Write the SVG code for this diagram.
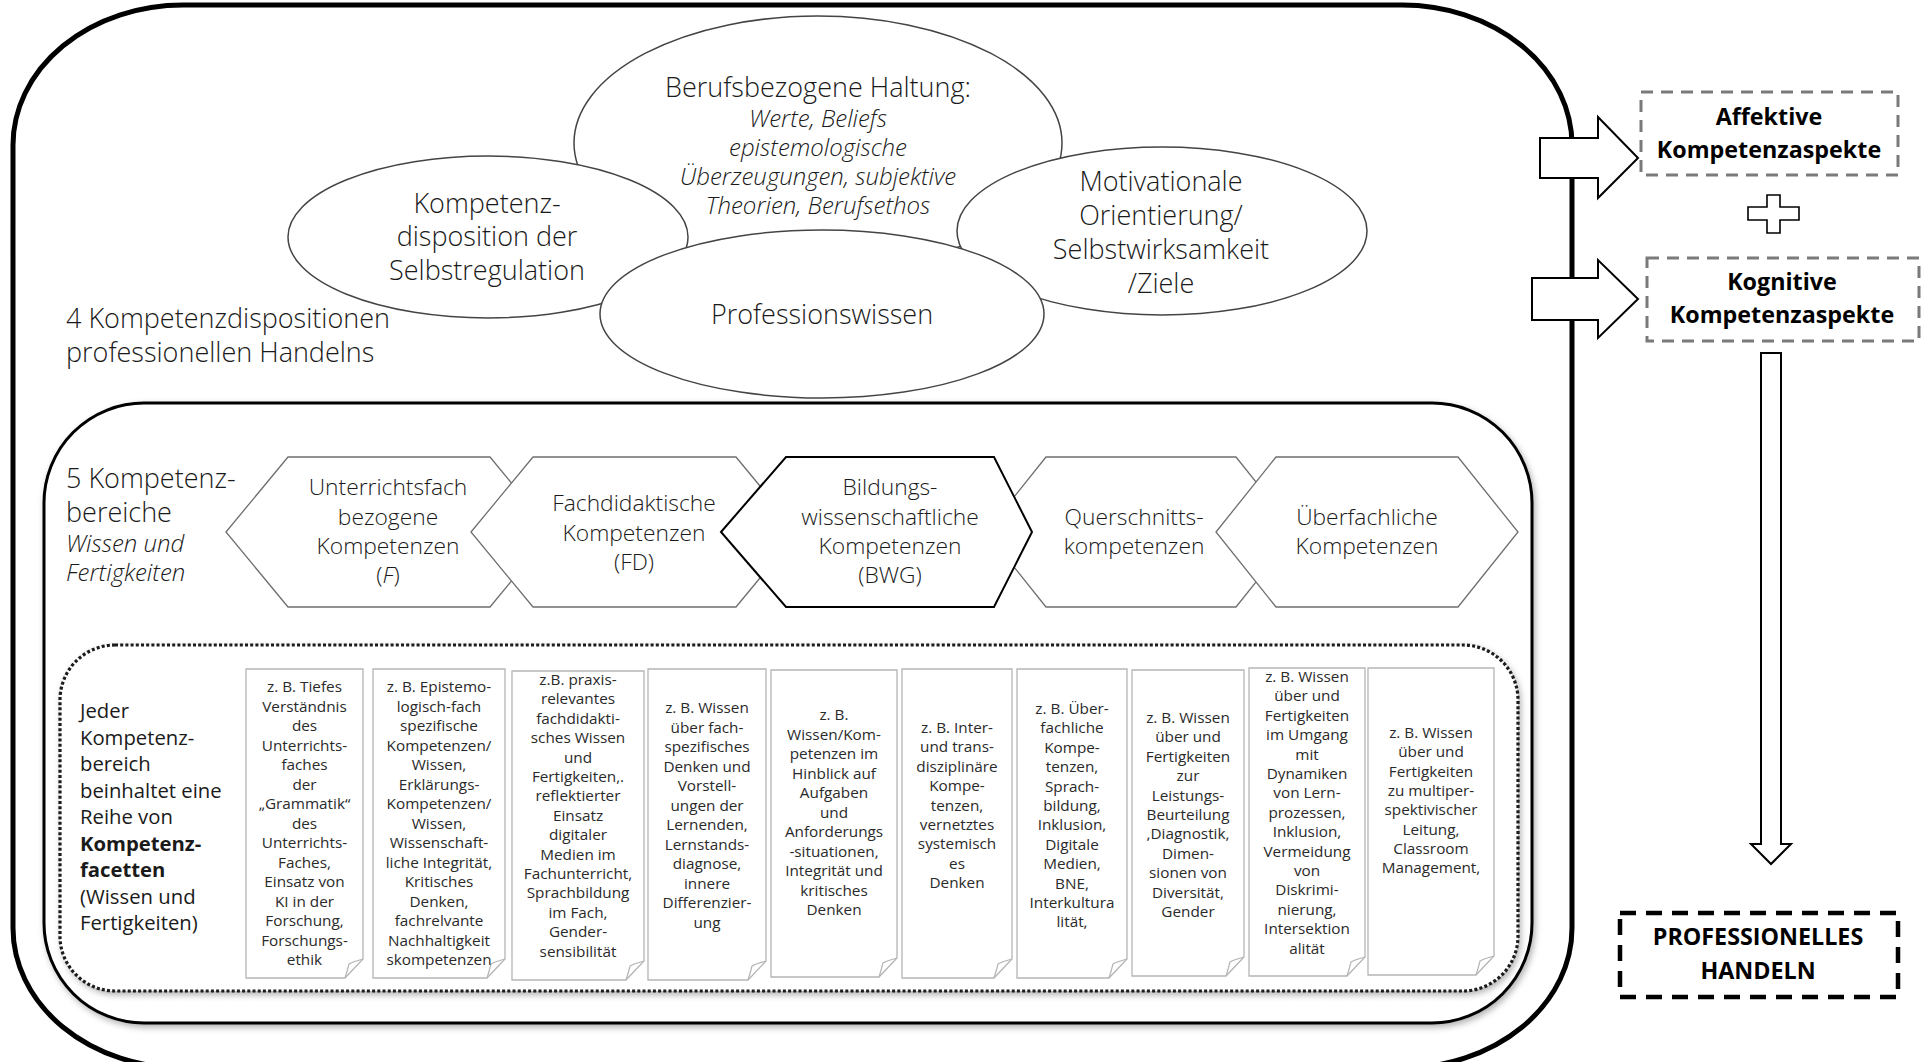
<svg xmlns="http://www.w3.org/2000/svg" width="1926" height="1062" viewBox="0 0 1926 1062">
<defs>
<filter id="sh" x="-3%" y="-3%" width="106%" height="108%"><feDropShadow dx="2" dy="3" stdDeviation="3" flood-color="#000" flood-opacity="0.3"/></filter>
</defs>
<style>
text{font-family:"Open Sans","Noto Sans","DejaVu Sans",sans-serif;fill:#1a1a1a;}
.lt{font-weight:300;}
.el{fill:#fff;stroke:#444;stroke-width:1.5;}
.hx{fill:#fff;stroke:#6f6f6f;stroke-width:1.3;}
.big{font-size:27px;text-anchor:middle;}
.it{font-size:24px;font-style:italic;text-anchor:middle;}
.hxt{font-size:22.8px;text-anchor:middle;}
.note{fill:#fff;stroke:#b5b5b5;stroke-width:1.3;}
.fold{fill:none;stroke:#b5b5b5;stroke-width:1.2;}
.nt{font-size:15.3px;text-anchor:middle;fill:#2a2a2a;}
.bl{font-size:23.3px;font-weight:700;text-anchor:middle;fill:#000;}
.barrow{fill:#fff;stroke:#000;stroke-width:2;stroke-linejoin:miter;}
</style>

<g id="outer-frame">
<rect x="13" y="5" width="1559" height="1063" rx="170" ry="140" fill="#fff" stroke="#000" stroke-width="5"/>
</g>

<g id="dispositions">
<g id="ellipse-haltung">
<ellipse class="el" cx="818" cy="143" rx="244" ry="127"/>
<text class="big lt" x="818" y="97">Berufsbezogene Haltung:</text>
<text class="it lt" x="818" y="127">Werte, Beliefs</text>
<text class="it lt" x="818" y="156">epistemologische</text>
<text class="it lt" x="818" y="185">Überzeugungen, subjektive</text>
<text class="it lt" x="818" y="214">Theorien, Berufsethos</text>
</g>
<g id="ellipse-selbstregulation">
<ellipse class="el" cx="488" cy="237" rx="200" ry="81"/>
<text class="big lt" x="487" y="213">Kompetenz-</text>
<text class="big lt" x="487" y="246">disposition der</text>
<text class="big lt" x="487" y="280">Selbstregulation</text>
</g>
<g id="ellipse-motivation">
<ellipse class="el" cx="1162" cy="231" rx="205" ry="84"/>
<text class="big lt" x="1161" y="191">Motivationale</text>
<text class="big lt" x="1161" y="225">Orientierung/</text>
<text class="big lt" x="1161" y="259">Selbstwirksamkeit</text>
<text class="big lt" x="1161" y="293">/Ziele</text>
</g>
<g id="ellipse-professionswissen">
<ellipse class="el" cx="822" cy="314" rx="222" ry="84"/>
<text class="big lt" x="822" y="324">Professionswissen</text>
</g>
<g id="label-dispositionen">
<text class="lt" x="66" y="328" font-size="27">4 Kompetenzdispositionen</text>
<text class="lt" x="66" y="362" font-size="27">professionellen Handelns</text>
</g>
</g>

<g id="bereiche-frame">
<rect x="44" y="403" width="1488" height="620" rx="100" ry="100" fill="#fff" stroke="#000" stroke-width="3" filter="url(#sh)"/>
</g>

<g id="label-bereiche">
<text class="lt" x="66" y="488" font-size="27">5 Kompetenz-</text>
<text class="lt" x="66" y="522" font-size="27">bereiche</text>
<text class="lt" x="66" y="552" font-size="24" font-style="italic">Wissen und</text>
<text class="lt" x="66" y="581" font-size="24" font-style="italic">Fertigkeiten</text>
</g>

<g id="hex-F">
<polygon class="hx" points="226,532 288,457 490,457 552,532 490,607 288,607"/>
<text class="hxt lt" x="388" y="495">Unterrichtsfach</text>
<text class="hxt lt" x="388" y="525">bezogene</text>
<text class="hxt lt" x="388" y="554">Kompetenzen</text>
<text class="hxt lt" x="388" y="583">(<tspan font-style="italic">F</tspan>)</text>
</g>
<g id="hex-FD">
<polygon class="hx" points="471,532 533,457 736,457 798,532 736,607 533,607"/>
<text class="hxt lt" x="634" y="511">Fachdidaktische</text>
<text class="hxt lt" x="634" y="541">Kompetenzen</text>
<text class="hxt lt" x="634" y="570">(FD)</text>
</g>
<g id="hex-Q">
<polygon class="hx" points="986,532 1046,457 1236,457 1296,532 1236,607 1046,607"/>
<text class="hxt lt" x="1134" y="525">Querschnitts-</text>
<text class="hxt lt" x="1134" y="554">kompetenzen</text>
</g>
<g id="hex-UE">
<polygon class="hx" points="1216,532 1276,457 1458,457 1518,532 1458,607 1276,607"/>
<text class="hxt lt" x="1367" y="525">Überfachliche</text>
<text class="hxt lt" x="1367" y="554">Kompetenzen</text>
</g>
<g id="hex-BWG">
<polygon points="721,532 786,457 994,457 1032,532 994,607 786,607" fill="#fff" stroke="#000" stroke-width="2"/>
<text class="hxt lt" x="890" y="495">Bildungs-</text>
<text class="hxt lt" x="890" y="525">wissenschaftliche</text>
<text class="hxt lt" x="890" y="554">Kompetenzen</text>
<text class="hxt lt" x="890" y="583">(BWG)</text>
</g>

<g id="facetten-frame">
<rect x="60" y="645" width="1458" height="346" rx="55" ry="55" fill="#fff" stroke="#1a1a1a" stroke-width="3.2" stroke-dasharray="3 2.2" filter="url(#sh)"/>
</g>

<g id="label-facetten">
<text x="80" y="718" font-size="20.3">Jeder</text>
<text x="80" y="745" font-size="20.3">Kompetenz-</text>
<text x="80" y="771" font-size="20.3">bereich</text>
<text x="80" y="798" font-size="20.3">beinhaltet eine</text>
<text x="80" y="824" font-size="20.3">Reihe von</text>
<text x="80" y="851" font-size="20.3" font-weight="700">Kompetenz-</text>
<text x="80" y="877" font-size="20.3" font-weight="700">facetten</text>
<text x="80" y="904" font-size="20.3">(Wissen und</text>
<text x="80" y="930" font-size="20.3">Fertigkeiten)</text>
</g>

<g id="note-1">
<path class="note" d="M246,669 H363 V959 L345,978 H246 Z"/>
<path class="fold" d="M363,959 Q352,962 349,964 Q347,972 345,978"/>
<text class="nt" x="304.5" y="692">z. B. Tiefes<tspan x="304.5" dy="19.5">Verständnis</tspan><tspan x="304.5" dy="19.5">des</tspan><tspan x="304.5" dy="19.5">Unterrichts-</tspan><tspan x="304.5" dy="19.5">faches</tspan><tspan x="304.5" dy="19.5">der</tspan><tspan x="304.5" dy="19.5">„Grammatik“</tspan><tspan x="304.5" dy="19.5">des</tspan><tspan x="304.5" dy="19.5">Unterrichts-</tspan><tspan x="304.5" dy="19.5">Faches,</tspan><tspan x="304.5" dy="19.5">Einsatz von</tspan><tspan x="304.5" dy="19.5">KI in der</tspan><tspan x="304.5" dy="19.5">Forschung,</tspan><tspan x="304.5" dy="19.5">Forschungs-</tspan><tspan x="304.5" dy="19.5">ethik</tspan></text>
</g>
<g id="note-2">
<path class="note" d="M373,669 H505 V959 L487,978 H373 Z"/>
<path class="fold" d="M505,959 Q494,962 491,964 Q489,972 487,978"/>
<text class="nt" x="439" y="692">z. B. Epistemo-<tspan x="439" dy="19.5">logisch-fach</tspan><tspan x="439" dy="19.5">spezifische</tspan><tspan x="439" dy="19.5">Kompetenzen/</tspan><tspan x="439" dy="19.5">Wissen,</tspan><tspan x="439" dy="19.5">Erklärungs-</tspan><tspan x="439" dy="19.5">Kompetenzen/</tspan><tspan x="439" dy="19.5">Wissen,</tspan><tspan x="439" dy="19.5">Wissenschaft-</tspan><tspan x="439" dy="19.5">liche Integrität,</tspan><tspan x="439" dy="19.5">Kritisches</tspan><tspan x="439" dy="19.5">Denken,</tspan><tspan x="439" dy="19.5">fachrelvante</tspan><tspan x="439" dy="19.5">Nachhaltigkeit</tspan><tspan x="439" dy="19.5">skompetenzen</tspan></text>
</g>
<g id="note-3">
<path class="note" d="M512,671 H644 V961 L626,980 H512 Z"/>
<path class="fold" d="M644,961 Q633,964 630,966 Q628,974 626,980"/>
<text class="nt" x="578" y="685">z.B. praxis-<tspan x="578" dy="19.4">relevantes</tspan><tspan x="578" dy="19.4">fachdidakti-</tspan><tspan x="578" dy="19.4">sches Wissen</tspan><tspan x="578" dy="19.4">und</tspan><tspan x="578" dy="19.4">Fertigkeiten,.</tspan><tspan x="578" dy="19.4">reflektierter</tspan><tspan x="578" dy="19.4">Einsatz</tspan><tspan x="578" dy="19.4">digitaler</tspan><tspan x="578" dy="19.4">Medien im</tspan><tspan x="578" dy="19.4">Fachunterricht,</tspan><tspan x="578" dy="19.4">Sprachbildung</tspan><tspan x="578" dy="19.4">im Fach,</tspan><tspan x="578" dy="19.4">Gender-</tspan><tspan x="578" dy="19.4">sensibilität</tspan></text>
</g>
<g id="note-4">
<path class="note" d="M648,669 H766 V961 L748,980 H648 Z"/>
<path class="fold" d="M766,961 Q755,964 752,966 Q750,974 748,980"/>
<text class="nt" x="707" y="713">z. B. Wissen<tspan x="707" dy="19.5">über fach-</tspan><tspan x="707" dy="19.5">spezifisches</tspan><tspan x="707" dy="19.5">Denken und</tspan><tspan x="707" dy="19.5">Vorstell-</tspan><tspan x="707" dy="19.5">ungen der</tspan><tspan x="707" dy="19.5">Lernenden,</tspan><tspan x="707" dy="19.5">Lernstands-</tspan><tspan x="707" dy="19.5">diagnose,</tspan><tspan x="707" dy="19.5">innere</tspan><tspan x="707" dy="19.5">Differenzier-</tspan><tspan x="707" dy="19.5">ung</tspan></text>
</g>
<g id="note-5">
<path class="note" d="M771,670 H897 V958 L879,977 H771 Z"/>
<path class="fold" d="M897,958 Q886,961 883,963 Q881,971 879,977"/>
<text class="nt" x="834" y="720">z. B.<tspan x="834" dy="19.5">Wissen/Kom-</tspan><tspan x="834" dy="19.5">petenzen im</tspan><tspan x="834" dy="19.5">Hinblick auf</tspan><tspan x="834" dy="19.5">Aufgaben</tspan><tspan x="834" dy="19.5">und</tspan><tspan x="834" dy="19.5">Anforderungs</tspan><tspan x="834" dy="19.5">-situationen,</tspan><tspan x="834" dy="19.5">Integrität und</tspan><tspan x="834" dy="19.5">kritisches</tspan><tspan x="834" dy="19.5">Denken</tspan></text>
</g>
<g id="note-6">
<path class="note" d="M902,669 H1012 V959 L994,978 H902 Z"/>
<path class="fold" d="M1012,959 Q1001,962 998,964 Q996,972 994,978"/>
<text class="nt" x="957" y="733">z. B. Inter-<tspan x="957" dy="19.4">und trans-</tspan><tspan x="957" dy="19.4">disziplinäre</tspan><tspan x="957" dy="19.4">Kompe-</tspan><tspan x="957" dy="19.4">tenzen,</tspan><tspan x="957" dy="19.4">vernetztes</tspan><tspan x="957" dy="19.4">systemisch</tspan><tspan x="957" dy="19.4">es</tspan><tspan x="957" dy="19.4">Denken</tspan></text>
</g>
<g id="note-7">
<path class="note" d="M1017,669 H1127 V959 L1109,978 H1017 Z"/>
<path class="fold" d="M1127,959 Q1116,962 1113,964 Q1111,972 1109,978"/>
<text class="nt" x="1072" y="714">z. B. Über-<tspan x="1072" dy="19.4">fachliche</tspan><tspan x="1072" dy="19.4">Kompe-</tspan><tspan x="1072" dy="19.4">tenzen,</tspan><tspan x="1072" dy="19.4">Sprach-</tspan><tspan x="1072" dy="19.4">bildung,</tspan><tspan x="1072" dy="19.4">Inklusion,</tspan><tspan x="1072" dy="19.4">Digitale</tspan><tspan x="1072" dy="19.4">Medien,</tspan><tspan x="1072" dy="19.4">BNE,</tspan><tspan x="1072" dy="19.4">Interkultura</tspan><tspan x="1072" dy="19.4">lität,</tspan></text>
</g>
<g id="note-8">
<path class="note" d="M1132,670 H1244 V957 L1226,976 H1132 Z"/>
<path class="fold" d="M1244,957 Q1233,960 1230,962 Q1228,970 1226,976"/>
<text class="nt" x="1188" y="723">z. B. Wissen<tspan x="1188" dy="19.4">über und</tspan><tspan x="1188" dy="19.4">Fertigkeiten</tspan><tspan x="1188" dy="19.4">zur</tspan><tspan x="1188" dy="19.4">Leistungs-</tspan><tspan x="1188" dy="19.4">Beurteilung</tspan><tspan x="1188" dy="19.4">,Diagnostik,</tspan><tspan x="1188" dy="19.4">Dimen-</tspan><tspan x="1188" dy="19.4">sionen von</tspan><tspan x="1188" dy="19.4">Diversität,</tspan><tspan x="1188" dy="19.4">Gender</tspan></text>
</g>
<g id="note-9">
<path class="note" d="M1249,668 H1365 V957 L1347,976 H1249 Z"/>
<path class="fold" d="M1365,957 Q1354,960 1351,962 Q1349,970 1347,976"/>
<text class="nt" x="1307" y="682">z. B. Wissen<tspan x="1307" dy="19.4">über und</tspan><tspan x="1307" dy="19.4">Fertigkeiten</tspan><tspan x="1307" dy="19.4">im Umgang</tspan><tspan x="1307" dy="19.4">mit</tspan><tspan x="1307" dy="19.4">Dynamiken</tspan><tspan x="1307" dy="19.4">von Lern-</tspan><tspan x="1307" dy="19.4">prozessen,</tspan><tspan x="1307" dy="19.4">Inklusion,</tspan><tspan x="1307" dy="19.4">Vermeidung</tspan><tspan x="1307" dy="19.4">von</tspan><tspan x="1307" dy="19.4">Diskrimi-</tspan><tspan x="1307" dy="19.4">nierung,</tspan><tspan x="1307" dy="19.4">Intersektion</tspan><tspan x="1307" dy="19.4">alität</tspan></text>
</g>
<g id="note-10">
<path class="note" d="M1368,668 H1494 V956 L1476,975 H1368 Z"/>
<path class="fold" d="M1494,956 Q1483,959 1480,961 Q1478,969 1476,975"/>
<text class="nt" x="1431" y="738">z. B. Wissen<tspan x="1431" dy="19.3">über und</tspan><tspan x="1431" dy="19.3">Fertigkeiten</tspan><tspan x="1431" dy="19.3">zu multiper-</tspan><tspan x="1431" dy="19.3">spektivischer</tspan><tspan x="1431" dy="19.3">Leitung,</tspan><tspan x="1431" dy="19.3">Classroom</tspan><tspan x="1431" dy="19.3">Management,</tspan></text>
</g>

<g id="connectors">
<path class="barrow" d="M1540,138 H1598 V117 L1638,158 L1598,198 V178 H1540 Z"/>
<path class="barrow" d="M1532,278 H1598 V260 L1638,299 L1598,338 V320 H1532 Z"/>
<path class="barrow" d="M1761,353 H1781 V844 H1791 L1771,864 L1751,844 H1761 Z" stroke-width="1.6"/>
</g>

<g id="aspekt-affektiv">
<rect x="1641" y="92" width="257" height="83" fill="#fff" stroke="#7a7a7a" stroke-width="3" stroke-dasharray="12 8"/>
<text class="bl" x="1769" y="125">Affektive</text>
<text class="bl" x="1769" y="158">Kompetenzaspekte</text>
</g>
<g id="plus">
<path d="M1767,195 H1780 V207 H1799 V220 H1780 V233 H1767 V220 H1748 V207 H1767 Z" fill="#fff" stroke="#000" stroke-width="1.6"/>
</g>
<g id="aspekt-kognitiv">
<rect x="1647" y="258" width="272" height="83" fill="#fff" stroke="#7a7a7a" stroke-width="3" stroke-dasharray="12 8"/>
<text class="bl" x="1782" y="290">Kognitive</text>
<text class="bl" x="1782" y="323">Kompetenzaspekte</text>
</g>
<g id="professionelles-handeln">
<rect x="1620" y="913" width="278" height="84" fill="#fff" stroke="#000" stroke-width="4.5" stroke-dasharray="16 10"/>
<text class="bl" x="1758" y="945">PROFESSIONELLES</text>
<text class="bl" x="1758" y="979">HANDELN</text>
</g>
</svg>
